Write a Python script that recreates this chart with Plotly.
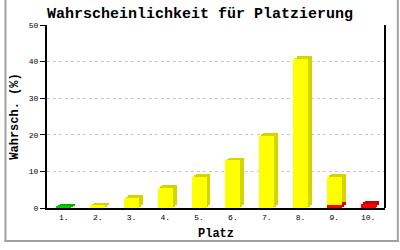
import plotly.graph_objects as go

places = [1, 2, 3, 4, 5, 6, 7, 8, 9, 10]
tick_labels = ["1.", "2.", "3.", "4.", "5.", "6.", "7.", "8.", "9.", "10."]
# stacked segments per place: green (bottom), red (bottom), yellow
green_vals = [0.3, 0, 0, 0, 0, 0, 0, 0, 0, 0]
red_vals = [0, 0, 0, 0, 0, 0, 0, 0, 0.8, 1.2]
yellow_vals = [0, 0.7, 2.7, 5.5, 8.5, 13.0, 19.8, 40.7, 7.7, 0]

# plot geometry (px)
L, R, T, B = 43, 385, 25, 214
W, H = 400, 250
pw, ph = R - L, B - T
ymax = 50
px_per_x = pw / 10.0
px_per_y = ph / ymax
bar_w = 15 / px_per_x
dx = 4 / px_per_x      # depth offset right
dy = 3 / px_per_y      # depth offset up

FONT = "Liberation Mono"

fig = go.Figure()

segments = [
    (green_vals, "#00cc00", "#00b400"),
    (red_vals, "#ff0000", "#cc0000"),
    (yellow_vals, "#ffff00", "#d4d400"),
]

bases = []
run = [0.0] * 10
for vals, _, _ in segments:
    bases.append(list(run))
    run = [r + v for r, v in zip(run, vals)]

for si in [2, 1, 0]:
    vals, front, side = segments[si]
    xs = [p for p, v in zip(places, vals) if v > 0]
    ys = [v for v in vals if v > 0]
    for frac in (1.0, 0.5):
        bs = [b + dy * frac for b, v in zip(bases[si], vals) if v > 0]
        fig.add_trace(go.Bar(x=xs, y=ys, base=bs, width=bar_w, offset=-bar_w / 2 + dx * frac,
                             marker=dict(color=side, line=dict(width=0)),
                             hoverinfo="skip", showlegend=False))

for si in [0, 1, 2]:
    vals, front, side = segments[si]
    xs = [p for p, v in zip(places, vals) if v > 0]
    ys = [v for v in vals if v > 0]
    bs = [b for b, v in zip(bases[si], vals) if v > 0]
    fig.add_trace(go.Bar(x=xs, y=ys, base=bs, width=bar_w, offset=-bar_w / 2,
                         marker=dict(color=front, line=dict(width=0)),
                         showlegend=False))

def paper_x(px):
    return (px - L) / pw

def paper_y(py):
    return (B - py) / ph

shapes = [
    dict(type="line", xref="paper", yref="paper", x0=1, x1=1, y0=0, y1=1,
         line=dict(color="black", width=2)),
    dict(type="line", xref="paper", yref="paper", x0=paper_x(1), x1=paper_x(1),
         y0=paper_y(-2), y1=paper_y(249), line=dict(color="#a0a0a0", width=2)),
    dict(type="line", xref="paper", yref="paper", x0=paper_x(398), x1=paper_x(398),
         y0=paper_y(-2), y1=paper_y(249), line=dict(color="#a0a0a0", width=2)),
    dict(type="line", xref="paper", yref="paper", x0=paper_x(0), x1=paper_x(399),
         y0=paper_y(248), y1=paper_y(248), line=dict(color="#a0a0a0", width=2)),
]

fig.update_layout(
    width=W, height=H,
    margin=dict(l=L, r=W - R, t=T, b=H - B, pad=0),
    paper_bgcolor="white", plot_bgcolor="white",
    barmode="overlay",
    bargap=0,
    title=dict(text="<b>Wahrscheinlichkeit für Platzierung</b>",
               font=dict(family=FONT, size=15, color="black"),
               x=0.5, xanchor="center", y=1 - 13 / H, yanchor="middle"),
    xaxis=dict(range=[0.5, 10.5], tickmode="array", tickvals=places, ticktext=tick_labels,
               showgrid=False, zeroline=False, showline=True, linecolor="black", linewidth=2,
               ticks="", tickfont=dict(family=FONT, size=8, color="black"),
               title=dict(text="<b>Platz</b>", font=dict(family=FONT, size=12, color="black"),
                          standoff=8),
               fixedrange=True),
    yaxis=dict(range=[0, ymax], tickvals=[0, 10, 20, 30, 40, 50],
               showgrid=True, gridcolor="#c8c8c8", griddash="dot", gridwidth=1,
               zeroline=False, showline=True, linecolor="black", linewidth=2,
               ticks="outside", ticklen=5, tickcolor="black", tickwidth=1,
               tickfont=dict(family=FONT, size=8, color="black"),
               title=dict(text="<b>Wahrsch. (%)</b>", font=dict(family=FONT, size=12, color="black"),
                          standoff=8),
               fixedrange=True),
    shapes=shapes,
)

fig.write_html("out.html", config={"displayModeBar": False})
